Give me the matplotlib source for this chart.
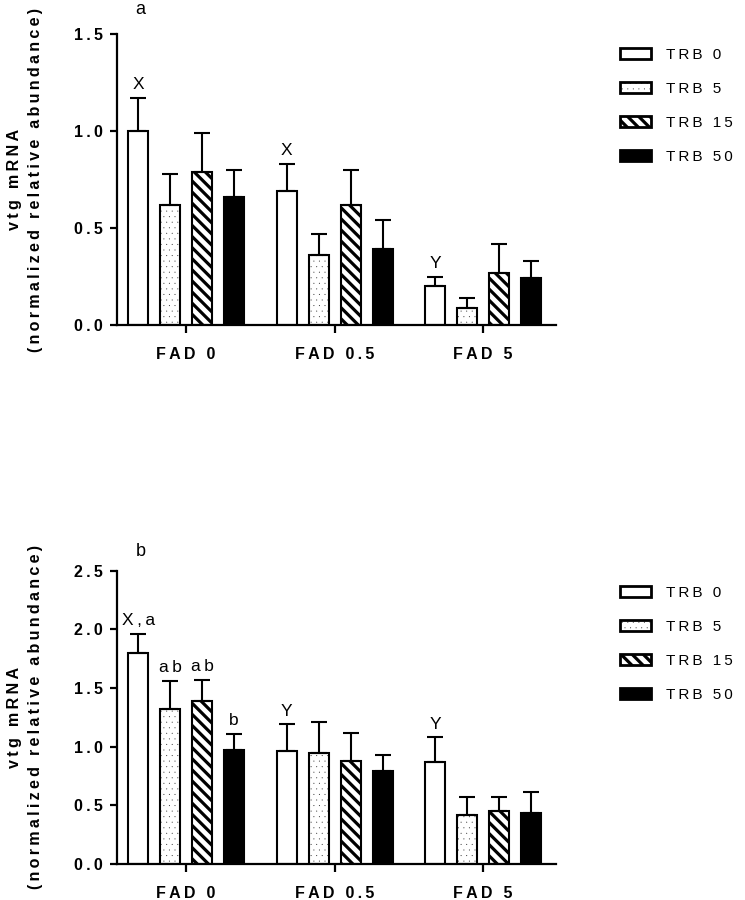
import matplotlib
matplotlib.use("Agg")
import matplotlib.pyplot as plt
import numpy as np
from matplotlib.patches import Patch, Rectangle
from matplotlib.legend_handler import HandlerPatch

plt.rcParams['font.family'] = ['Liberation Sans', 'DejaVu Sans']

# ---------------- data ----------------
groups = ["FAD 0", "FAD 0.5", "FAD 5"]
series = ["TRB 0", "TRB 5", "TRB 15", "TRB 50"]

# panel a: means per series (across FAD 0, 0.5, 5) and upper SEM
a_mean_trb0 = [1.00, 0.69, 0.20]
a_mean_trb5 = [0.62, 0.36, 0.09]
a_mean_trb15 = [0.79, 0.62, 0.27]
a_mean_trb50 = [0.66, 0.39, 0.24]
a_sem_trb0 = [0.17, 0.14, 0.05]
a_sem_trb5 = [0.16, 0.11, 0.05]
a_sem_trb15 = [0.20, 0.18, 0.15]
a_sem_trb50 = [0.14, 0.15, 0.09]
a_labels_trb0 = ["X", "X", "Y"]
a_labels_trb5 = ["", "", ""]
a_labels_trb15 = ["", "", ""]
a_labels_trb50 = ["", "", ""]
a_yticks = [0.0, 0.5, 1.0, 1.5]

# panel b
b_mean_trb0 = [1.80, 0.96, 0.87]
b_mean_trb5 = [1.32, 0.95, 0.42]
b_mean_trb15 = [1.39, 0.88, 0.45]
b_mean_trb50 = [0.97, 0.79, 0.435]
b_sem_trb0 = [0.16, 0.23, 0.21]
b_sem_trb5 = [0.24, 0.26, 0.15]
b_sem_trb15 = [0.18, 0.24, 0.12]
b_sem_trb50 = [0.14, 0.14, 0.18]
b_labels_trb0 = ["X,a", "Y", "Y"]
b_labels_trb5 = ["ab", "", ""]
b_labels_trb15 = ["ab", "", ""]
b_labels_trb50 = ["b", "", ""]
b_yticks = [0.0, 0.5, 1.0, 1.5, 2.0, 2.5]

# ---------------- style ----------------
TS = '\u2009'
def spaced(s):
    return TS.join(s)

styles = [
    dict(facecolor='white', hatch=None, hlw=1.0, hcolor='black'),
    dict(facecolor='white', hatch='...', hlw=0.0, hcolor='#333333'),
    dict(facecolor='white', hatch='\\\\\\', hlw=2.3, hcolor='black'),
    dict(facecolor='black', hatch=None, hlw=1.0, hcolor='black'),
]
offsets = [-0.323, -0.108, 0.108, 0.323]
bar_w = 0.135

fig = plt.figure(figsize=(7.45, 9), dpi=100)
W, H = 745.0, 900.0
ax1 = fig.add_axes([117 / W, 1 - 325 / H, (556 - 117) / W, (325 - 34) / H])
ax2 = fig.add_axes([117 / W, 1 - 864 / H, (556 - 117) / W, (864 - 570.7) / H])


def set_hlw(artist, lw):
    if hasattr(artist, 'set_hatch_linewidth'):
        artist.set_hatch_linewidth(lw)


def draw_panel(ax, means, sems, labels, yticks):
    x = np.arange(len(groups))
    for i, st in enumerate(styles):
        with plt.rc_context({'hatch.linewidth': st['hlw']}):
            bars = ax.bar(x + offsets[i], means[i], width=bar_w,
                          facecolor=st['facecolor'], edgecolor=st['hcolor'],
                          linewidth=0, hatch=st['hatch'], zorder=2)
            for b in bars:
                set_hlw(b, st['hlw'])
        ax.bar(x + offsets[i], means[i], width=bar_w, fill=False,
               edgecolor='black', linewidth=1.5, zorder=2.5)
        ax.errorbar(x + offsets[i], means[i],
                    yerr=[np.zeros(len(groups)), sems[i]],
                    fmt='none', ecolor='black', elinewidth=1.5,
                    capsize=5.5, capthick=1.5, zorder=3)
        for j in range(len(groups)):
            if labels[i][j]:
                ax.annotate(spaced(labels[i][j]),
                            (x[j] + offsets[i], means[i][j] + sems[i][j]),
                            xytext=(0, 4), textcoords='offset points',
                            ha='center', va='bottom', fontsize=12.5)
    ax.set_xlim(-0.465, 2.49)
    ax.set_ylim(yticks[0], yticks[-1])
    ax.set_yticks(yticks)
    ax.set_yticklabels([spaced(f"{t:.1f}") for t in yticks],
                       fontsize=11.5, fontweight='bold')
    ax.set_xticks(x)
    ax.set_xticklabels([spaced(g) for g in groups], fontsize=11.5,
                       fontweight='bold')
    for s in ['top', 'right']:
        ax.spines[s].set_visible(False)
    for s in ['left', 'bottom']:
        ax.spines[s].set_linewidth(1.6)
    ax.tick_params(axis='y', length=5, width=1.6, pad=5)
    ax.tick_params(axis='x', length=6, width=1.6, pad=10)
    ax.text(-0.21, 0.5, spaced("vtg mRNA") + "\n" +
            spaced("(normalized relative abundance)"),
            transform=ax.transAxes, rotation=90, ha='center', va='center',
            multialignment='center', fontsize=11.6, fontweight='bold',
            linespacing=1.5)


draw_panel(ax1,
           [a_mean_trb0, a_mean_trb5, a_mean_trb15, a_mean_trb50],
           [a_sem_trb0, a_sem_trb5, a_sem_trb15, a_sem_trb50],
           [a_labels_trb0, a_labels_trb5, a_labels_trb15, a_labels_trb50],
           a_yticks)
draw_panel(ax2,
           [b_mean_trb0, b_mean_trb5, b_mean_trb15, b_mean_trb50],
           [b_sem_trb0, b_sem_trb5, b_sem_trb15, b_sem_trb50],
           [b_labels_trb0, b_labels_trb5, b_labels_trb15, b_labels_trb50],
           b_yticks)

fig.text(140 / W, 1 - 10 / H, "a", ha='center', va='center', fontsize=13)
fig.text(141 / W, 1 - 552 / H, "b", ha='center', va='center', fontsize=13)


class OutlinedHandler(HandlerPatch):
    """Legend key: hatched fill in hatch colour plus a black outline."""
    def __init__(self, st):
        super().__init__()
        self.st = st

    def create_artists(self, legend, orig_handle, xdescent, ydescent,
                       width, height, fontsize, trans):
        st = self.st
        with plt.rc_context({'hatch.linewidth': st['hlw']}):
            fill = Rectangle((-xdescent, -ydescent), width, height,
                             facecolor=st['facecolor'], edgecolor=st['hcolor'],
                             linewidth=0, hatch=st['hatch'], transform=trans)
            set_hlw(fill, st['hlw'])
        outline = Rectangle((-xdescent, -ydescent), width, height,
                            fill=False, edgecolor='black', linewidth=2,
                            transform=trans)
        return [fill, outline]


def make_legend(top_px):
    handles = [Patch(facecolor=st['facecolor']) for st in styles]
    hmap = {h: OutlinedHandler(st) for h, st in zip(handles, styles)}
    leg = fig.legend(handles, [spaced(s) for s in series],
                     loc='upper left',
                     bbox_to_anchor=(620 / W, 1 - top_px / H),
                     frameon=False, borderpad=0, borderaxespad=0,
                     fontsize=11, handlelength=2.0, handleheight=0.75,
                     handletextpad=1.0, labelspacing=1.3,
                     handler_map=hmap)
    return leg


make_legend(48)
make_legend(586)

fig.savefig("out.png", dpi=100)
